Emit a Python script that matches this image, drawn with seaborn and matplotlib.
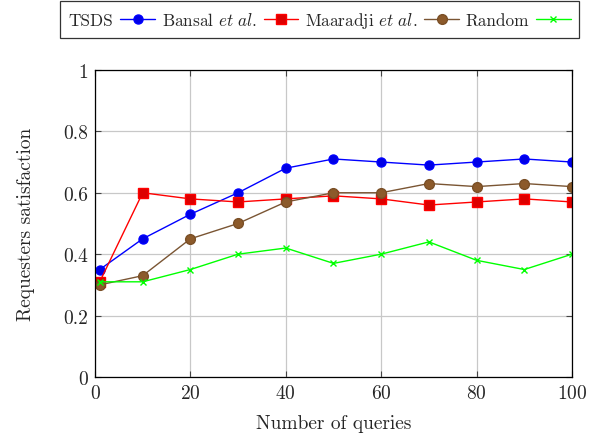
import matplotlib
matplotlib.use('Agg')
import matplotlib.pyplot as plt
import seaborn as sns

queries = [1, 10, 20, 30, 40, 50, 60, 70, 80, 90, 100]
tsds = [0.35, 0.45, 0.53, 0.60, 0.68, 0.71, 0.70, 0.69, 0.70, 0.71, 0.70]
bansal = [0.31, 0.60, 0.58, 0.57, 0.58, 0.59, 0.58, 0.56, 0.57, 0.58, 0.57]
maaradji = [0.30, 0.33, 0.45, 0.50, 0.57, 0.60, 0.60, 0.63, 0.62, 0.63, 0.62]
random_sel = [0.31, 0.31, 0.35, 0.40, 0.42, 0.37, 0.40, 0.44, 0.38, 0.35, 0.40]
labels = ['TSDS', r'Bansal $\it{et\ al.}$', r'Maaradji $\it{et\ al.}$', 'Random']

sns.set_style('ticks')
plt.rcParams['font.family'] = 'serif'
plt.rcParams['font.serif'] = ['cmr10']
plt.rcParams['mathtext.fontset'] = 'cm'
plt.rcParams['axes.formatter.use_mathtext'] = True

fig = plt.figure(figsize=(6.1, 4.35), dpi=100)
ax = fig.add_axes([0.1557, 0.131, 0.782, 0.706])

styles = [
    dict(color='#0000ff', marker='o', mfc='#0000e6', mec='#0000ff', ms=6.5),
    dict(color='#ff0000', marker='s', mfc='#dd0000', mec='#ff0000', ms=6.5),
    dict(color='#7a5533', marker='o', mfc='#8c5a2b', mec='#7a4f26', ms=7),
    dict(color='#00ff00', marker='x', mfc='#00ff00', mec='#00ff00', ms=5),
]
series = [tsds, bansal, maaradji, random_sel]
for vals, lab, st in zip(series, labels, styles):
    sns.lineplot(x=queries, y=vals, ax=ax, label=lab, color=st['color'],
                 marker=st['marker'], markerfacecolor=st['mfc'],
                 markeredgecolor=st['mec'], markersize=st['ms'],
                 markeredgewidth=1.0, linewidth=1.0)

ax.set_xlim(0, 100)
ax.set_ylim(0, 1)
ax.set_xticks([0, 20, 40, 60, 80, 100])
ax.set_yticks([0, 0.2, 0.4, 0.6, 0.8, 1])
ax.set_yticklabels(['0', '0.2', '0.4', '0.6', '0.8', '1'])
ax.grid(True, color='#c8c8c8', linewidth=0.9)
ax.set_axisbelow(True)
ax.tick_params(direction='in', top=True, right=True, labelsize=14, length=4,
               color='#444444', pad=5)
for s in ax.spines.values():
    s.set_linewidth(0.9)
    s.set_color('black')
ax.set_xlabel('Number of queries', fontsize=14, labelpad=9)
ax.set_ylabel('Requesters satisfaction', fontsize=14, labelpad=20)

h, l = ax.get_legend_handles_labels()
ax.get_legend().remove()
leg = fig.legend(h, l, loc='upper center', bbox_to_anchor=(0.524, 0.995), ncol=4,
                 markerfirst=False, frameon=True, fancybox=False, fontsize=12.4,
                 handlelength=2.0, handletextpad=0.4, columnspacing=0.4,
                 borderpad=0.5, borderaxespad=0)
leg.get_frame().set_edgecolor('black')
leg.get_frame().set_linewidth(0.9)

fig.savefig('out.png', dpi=100)
